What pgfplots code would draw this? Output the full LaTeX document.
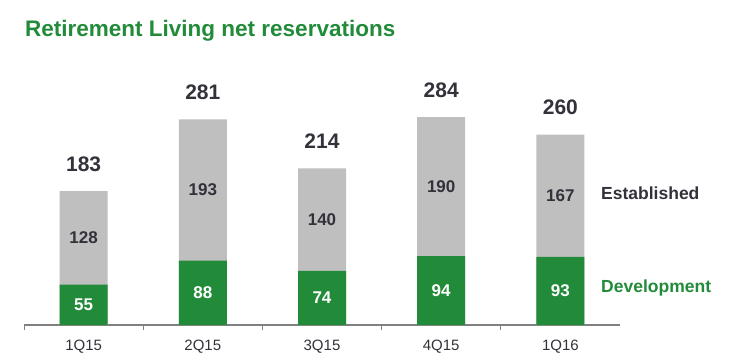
\documentclass[border=0pt]{standalone}
\usepackage{pgfplots}
\pgfplotsset{compat=1.18}
\usepackage{pgfplotstable}
\usepackage{fontspec}
\setmainfont{Liberation Sans}
\definecolor{rgreen}{RGB}{34,139,58}
\definecolor{rgray}{RGB}{191,191,191}
\definecolor{rtext}{RGB}{50,50,58}
\definecolor{raxis}{RGB}{128,128,128}
\pgfplotstableread{
x dev est tot
0 55 128 183
1 88 193 281
2 74 140 214
3 94 190 284
4 93 167 260
}\data
\begin{document}
\begin{tikzpicture}[x=1pt,y=1pt]
\useasboundingbox (0,0) rectangle (731,359);
\begin{axis}[
  at={(24pt,34pt)}, anchor=south west,
  scale only axis, width=596pt, height=219.6pt,
  xmin=-0.5, xmax=4.5, ymin=0, ymax=300,
  axis y line=none, axis x line*=bottom,
  x axis line style={draw=raxis, line width=1.2pt, -},
  xtick={0,...,4}, xticklabels={1Q15,2Q15,3Q15,4Q15,1Q16},
  major tick length=0pt,
  minor xtick={-0.5,0.5,1.5,2.5,3.5},
  minor tick length=5pt, tick align=outside,
  tick style={draw=raxis, line width=1pt},
  xticklabel style={font=\fontsize{15}{18}\selectfont, text=rtext, anchor=center, yshift=-22pt},
  ybar, bar width=48pt,
  point meta=explicit,
  /pgf/number format/assume math mode=true,
  clip=false,
]
\addplot[fill=rgray, draw=none, bar shift=0pt,
  nodes near coords,
  nodes near coords style={font=\bfseries\fontsize{21}{25}\selectfont, text=rtext, anchor=center, yshift=27pt}]
  table[x=x,y=tot,meta=tot]{\data};
\addplot[fill=none, draw=none, bar shift=0pt,
  visualization depends on={\thisrow{est} \as \segh},
  nodes near coords,
  nodes near coords style={font=\bfseries\fontsize{17}{20}\selectfont, text=rtext, anchor=center, yshift={-0.366*\segh}}]
  table[x=x,y=tot,meta=est]{\data};
\addplot[fill=rgreen, draw=none, bar shift=0pt,
  visualization depends on={\thisrow{dev} \as \segh},
  nodes near coords,
  nodes near coords style={font=\bfseries\fontsize{17}{20}\selectfont, text=white, anchor=center, yshift={-0.366*\segh}}]
  table[x=x,y=dev,meta=dev]{\data};
\end{axis}
\node[anchor=base west, inner sep=0pt, text=rgreen, font=\bfseries\fontsize{22.5}{27}\selectfont] at (25,322) {Retirement Living net reservations};
\node[anchor=west, inner sep=0pt, text=rtext, font=\bfseries\fontsize{17.5}{21}\selectfont] at (601,166) {Established};
\node[anchor=west, inner sep=0pt, text=rgreen, font=\bfseries\fontsize{17.5}{21}\selectfont] at (601,71) {Development};
\end{tikzpicture}
\end{document}
